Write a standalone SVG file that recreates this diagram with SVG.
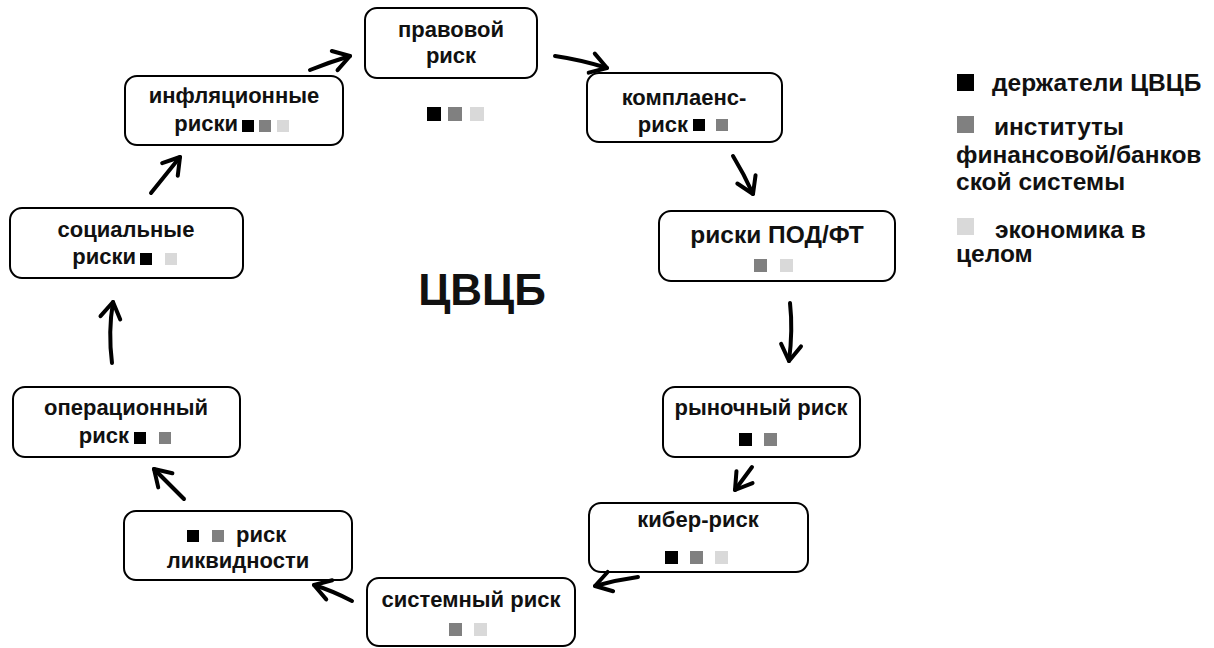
<svg xmlns="http://www.w3.org/2000/svg" width="1214" height="648" viewBox="0 0 1214 648">
<style>
.box{fill:#fff;stroke:#000;stroke-width:2}
.t{font-family:"Liberation Sans",Arial,sans-serif;font-weight:bold;font-size:22px;fill:#111}
.c{text-anchor:middle}
.e{text-anchor:end}
.lg{font-family:"Liberation Sans",Arial,sans-serif;font-weight:bold;font-size:24.5px;fill:#111}
.k{fill:#000}.g{fill:#808080}.l{fill:#d9d9d9}
.ar{fill:none;stroke:#000;stroke-width:4;stroke-linecap:round;stroke-linejoin:round}
</style>
<defs>
<marker id="ah" markerUnits="userSpaceOnUse" markerWidth="40" markerHeight="40" viewBox="-20 -20 40 40" refX="0" refY="0" orient="auto" overflow="visible">
<path d="M-16,-10 L0,0 L-16,10" fill="none" stroke="#000" stroke-width="4" stroke-linecap="round" stroke-linejoin="round"/>
</marker>
</defs>
<rect width="1214" height="648" fill="#fff"/>

<g id="n-pravovoy">
<rect class="box" x="365" y="8" width="172" height="70" rx="12"/>
<text class="t c" x="451" y="37">правовой</text>
<text class="t c" x="451" y="63">риск</text>
<rect class="k" x="427" y="107" width="14" height="14"/>
<rect class="g" x="448" y="107" width="14" height="14"/>
<rect class="l" x="470" y="107" width="14" height="14"/>
</g>

<g id="n-komplaens">
<rect class="box" x="587" y="73" width="195" height="69" rx="12"/>
<text class="t c" x="684" y="105">комплаенс-</text>
<text class="t e" x="688" y="132">риск</text>
<rect class="k" x="693" y="119" width="12" height="12"/>
<rect class="g" x="716" y="119" width="12" height="12"/>
</g>

<g id="n-podft">
<rect class="box" x="659" y="211" width="236" height="70" rx="12"/>
<text class="t c" x="777" y="243" style="font-size:24.5px">риски ПОД/ФТ</text>
<rect class="g" x="754" y="259" width="13" height="13"/>
<rect class="l" x="780" y="259" width="13" height="13"/>
</g>

<g id="n-rynochny">
<rect class="box" x="663" y="387" width="197" height="70" rx="12"/>
<text class="t c" x="761" y="415">рыночный риск</text>
<rect class="k" x="739" y="433" width="13" height="13"/>
<rect class="g" x="764" y="433" width="13" height="13"/>
</g>

<g id="n-kiber">
<rect class="box" x="589" y="503" width="219" height="69" rx="12"/>
<text class="t c" x="698" y="527">кибер-риск</text>
<rect class="k" x="665" y="551" width="13" height="13"/>
<rect class="g" x="690" y="551" width="13" height="13"/>
<rect class="l" x="715" y="551" width="13" height="13"/>
</g>

<g id="n-sistemny">
<rect class="box" x="367" y="578" width="208" height="68" rx="12"/>
<text class="t c" x="471" y="607">системный риск</text>
<rect class="g" x="449" y="623" width="13" height="13"/>
<rect class="l" x="474" y="623" width="13" height="13"/>
</g>

<g id="n-likvidnost">
<rect class="box" x="124" y="511" width="228" height="69" rx="12"/>
<rect class="k" x="187" y="530" width="12" height="12"/>
<rect class="g" x="212" y="530" width="12" height="12"/>
<text class="t" x="236" y="542">риск</text>
<text class="t c" x="238" y="568">ликвидности</text>
</g>

<g id="n-operacionny">
<rect class="box" x="13" y="387" width="227" height="70" rx="12"/>
<text class="t c" x="126" y="415">операционный</text>
<text class="t e" x="129" y="443">риск</text>
<rect class="k" x="134" y="432" width="12" height="12"/>
<rect class="g" x="159" y="432" width="12" height="12"/>
</g>

<g id="n-socialnye">
<rect class="box" x="10" y="208" width="233" height="70" rx="12"/>
<text class="t c" x="126" y="237">социальные</text>
<text class="t e" x="136" y="264">риски</text>
<rect class="k" x="140" y="253" width="12" height="12"/>
<rect class="l" x="165" y="253" width="12" height="12"/>
</g>

<g id="n-inflyacionnye">
<rect class="box" x="125" y="76" width="218" height="69" rx="12"/>
<text class="t c" x="234" y="103">инфляционные</text>
<text class="t e" x="238" y="131">риски</text>
<rect class="k" x="242" y="120" width="12" height="12"/>
<rect class="g" x="259" y="120" width="12" height="12"/>
<rect class="l" x="277" y="120" width="12" height="12"/>
</g>

<g id="center">
<text x="482" y="305" text-anchor="middle" style="font-family:'Liberation Sans',Arial,sans-serif;font-weight:bold;font-size:44px;fill:#111">ЦВЦБ</text>
</g>

<g id="legend">
<rect class="k" x="957" y="74" width="17" height="17"/>
<text class="lg" x="992" y="91">держатели ЦВЦБ</text>
<rect class="g" x="957" y="116" width="17" height="17"/>
<text class="lg" x="994" y="135">институты</text>
<text class="lg" x="956" y="163">финансовой/банков</text>
<text class="lg" x="956" y="190">ской системы</text>
<rect class="l" x="957" y="218" width="17" height="17"/>
<text class="lg" x="995" y="238">экономика в</text>
<text class="lg" x="956" y="262">целом</text>
</g>

<g id="connectors">
<path class="ar" marker-end="url(#ah)" d="M310,70 Q330,62 350,56"/>
<path class="ar" marker-end="url(#ah)" d="M555,56 Q582,60 607,68"/>
<path class="ar" marker-end="url(#ah)" d="M733,156 Q744,174 753,194"/>
<path class="ar" marker-end="url(#ah)" d="M790,303 Q793,330 789,361"/>
<path class="ar" marker-end="url(#ah)" d="M752,467 L735,490"/>
<path class="ar" marker-end="url(#ah)" d="M638,577 Q616,580 595,586"/>
<path class="ar" marker-end="url(#ah)" d="M352,601 Q333,591 314,585"/>
<path class="ar" marker-end="url(#ah)" d="M184,499 L154,469"/>
<path class="ar" marker-end="url(#ah)" d="M112,363 Q108,332 113,302"/>
<path class="ar" marker-end="url(#ah)" d="M151,193 L180,157"/>
</g>
</svg>
